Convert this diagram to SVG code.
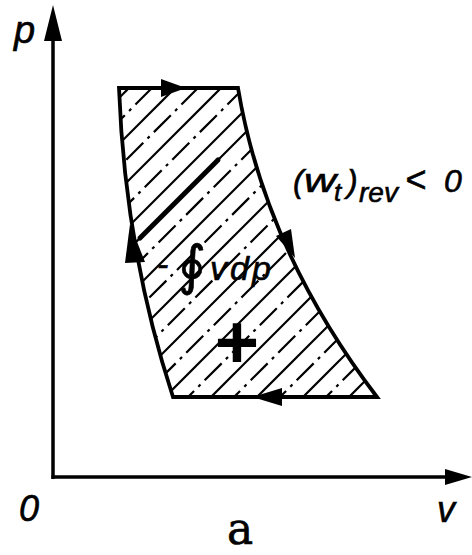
<svg xmlns="http://www.w3.org/2000/svg" width="472" height="555" viewBox="0 0 472 555">
<style>
  .ax{stroke:#000;stroke-width:3.5;fill:none}
  .out{stroke:#000;stroke-width:3.8;fill:none;stroke-linejoin:miter}
  .h{stroke:#000;stroke-width:2.2}
  .hd{stroke:#000;stroke-width:2.2;stroke-dasharray:24 6 3 6}
  .ah{fill:#000}
  .t{font-family:"Liberation Sans","DejaVu Sans",sans-serif;font-style:italic;fill:#000;stroke:#000;stroke-width:0.6}
</style>
<defs>
  <clipPath id="cyc">
    <path d="M119,88 L238,88 Q265,250 377,397 L173,397 Q125,250 119,88 Z"/>
  </clipPath>
</defs>
<g id="axes">
  <line class="ax" x1="53" y1="479" x2="53" y2="38"/>
  <polygon class="ah" points="53,5 44,41 62,41"/>
  <line class="ax" x1="51.5" y1="477" x2="448" y2="477"/>
  <polygon class="ah" points="472,477 445,469 445,485"/>
</g>
<g id="hatch" clip-path="url(#cyc)">
  <line class="h" x1="157" y1="60" x2="-203" y2="420"/>
  <line class="hd" x1="180" y1="60" x2="-180" y2="420"/>
  <line class="h" x1="203" y1="60" x2="-157" y2="420"/>
  <line class="hd" x1="226" y1="60" x2="-134" y2="420"/>
  <line class="h" x1="249" y1="60" x2="-111" y2="420"/>
  <line class="hd" x1="272" y1="60" x2="-88" y2="420"/>
  <line class="h" x1="295" y1="60" x2="-65" y2="420"/>
  <line class="h" x1="318" y1="60" x2="-42" y2="420"/>
  <line class="hd" x1="341" y1="60" x2="-19" y2="420"/>
  <line class="h" x1="364" y1="60" x2="4" y2="420"/>
  <line class="hd" x1="387" y1="60" x2="27" y2="420"/>
  <line class="h" x1="410" y1="60" x2="50" y2="420"/>
  <line class="hd" x1="433" y1="60" x2="73" y2="420"/>
  <line class="h" x1="456" y1="60" x2="96" y2="420"/>
  <line class="hd" x1="479" y1="60" x2="119" y2="420"/>
  <line class="h" x1="502" y1="60" x2="142" y2="420"/>
  <line class="hd" x1="525" y1="60" x2="165" y2="420"/>
  <line class="h" x1="548" y1="60" x2="188" y2="420"/>
  <line class="hd" x1="571" y1="60" x2="211" y2="420"/>
  <line class="h" x1="594" y1="60" x2="234" y2="420"/>
  <line class="hd" x1="617" y1="60" x2="257" y2="420"/>
  <line class="h" x1="640" y1="60" x2="280" y2="420"/>
  <line class="hd" x1="663" y1="60" x2="303" y2="420"/>
  <line class="h" x1="686" y1="60" x2="326" y2="420"/>
  <line class="hd" x1="709" y1="60" x2="349" y2="420"/>
  <line stroke="#000" stroke-width="5" stroke-linecap="round" x1="140" y1="238" x2="218" y2="160"/>
</g>
<g id="cycle">
  <path class="out" d="M119,88 L238,88 Q265,250 377,397 L173,397 Q125,250 119,88 Z"/>
</g>
<g id="connectors">
  <polygon class="ah" points="186,88 161,79 161,97"/>
  <polygon class="ah" points="295,258 276,236 291,229"/>
  <polygon class="ah" points="130,224 125,263 145,262"/>
  <polygon class="ah" points="252,397 282,388 282,406"/>
</g>
<g id="labels">
  <text class="t" x="14" y="43" font-size="38">p</text>
  <text class="t" x="19" y="521" font-size="36">0</text>
  <text class="t" x="437" y="522" font-size="36">v</text>
  <text x="227" y="544" font-family="DejaVu Serif,serif" font-size="44" fill="#000" stroke="#000" stroke-width="0.6">a</text>
  <text class="t" font-size="32"><tspan x="293" y="192">(</tspan><tspan x="304" y="192" font-size="34" textLength="32" lengthAdjust="spacingAndGlyphs">w</tspan><tspan x="334" y="201" font-size="26">t</tspan><tspan x="347" y="192">)</tspan><tspan x="359" y="202" font-size="28">rev</tspan><tspan x="405" y="192" font-size="36">&lt;</tspan><tspan x="444" y="192">0</tspan></text>
  <text class="t" font-size="34"><tspan x="157" y="276">-</tspan><tspan x="178" y="284" font-size="54" font-family="DejaVu Sans,sans-serif">∮</tspan><tspan x="210" y="280">v</tspan><tspan x="230" y="280">d</tspan><tspan x="252" y="280">p</tspan></text>
  <text x="237" y="368" font-family="Liberation Sans,sans-serif" font-weight="bold" font-size="76" text-anchor="middle" fill="#000">+</text>
</g>
</svg>
